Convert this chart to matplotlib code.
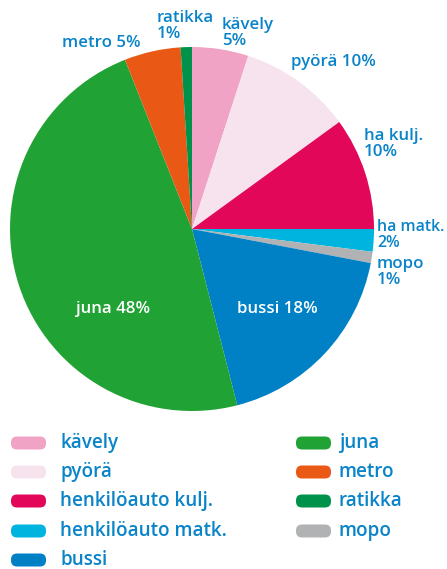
import matplotlib.pyplot as plt
from matplotlib.patches import FancyBboxPatch
from matplotlib.transforms import IdentityTransform

labels = ['kävely', 'pyörä', 'henkilöauto kulj.', 'henkilöauto matk.', 'mopo',
          'bussi', 'juna', 'metro', 'ratikka']
short = ['kävely\n5%', 'pyörä 10%', 'ha kulj.\n10%', 'ha matk.\n2%', 'mopo\n1%',
         'bussi 18%', 'juna 48%', 'metro 5%', 'ratikka\n1%']
values = [5, 10, 10, 2, 1, 18, 48, 5, 1]
colors = ['#f0a3c4', '#f6e3ee', '#e3075a', '#00b4e0', '#b1b2b4',
          '#0081c6', '#21a234', '#e95815', '#00924a']

# label anchor positions in pixels (left edge, vertical centre)
label_px = [(222, 33), (291, 62), (364, 144), (377, 235), (377, 272),
            (237, 309), (76, 309), (62, 43), (157, 26)]
label_col = ['#0a84c8'] * 5 + ['white', 'white'] + ['#0a84c8'] * 2

W, H = 447, 569
cx, cy, r = 192, 229, 182
blue = '#0a84c8'
font = 'Open Sans'

fig = plt.figure(figsize=(W / 100, H / 100), dpi=100)
ax = fig.add_axes([(cx - r) / W, 1 - (cy + r) / H, 2 * r / W, 2 * r / H])
ax.pie(values, colors=colors, startangle=90, counterclock=False, radius=1,
       wedgeprops=dict(linewidth=0))
ax.set_xlim(-1, 1)
ax.set_ylim(-1, 1)
ax.set_aspect('equal')
ax.axis('off')

for txt, (px, py), c in zip(short, label_px, label_col):
    # the label at the right edge is squeezed a bit so it stays inside
    fs = 11.4 if txt.startswith('ha matk') else 12.2
    fig.text(px / W, 1 - py / H, txt, ha='left', va='center', color=c,
             fontsize=fs, fontweight='semibold', family=font, linespacing=0.95)

# legend, two columns (pixel coords)
col1 = [0, 1, 2, 3, 5]
col2 = [6, 7, 8, 4]
rows_y = [443, 472, 501, 531, 560]
for col, (px_patch, px_text) in zip([col1, col2], [(11, 60), (296, 339)]):
    for i, idx in enumerate(col):
        y = rows_y[i]
        p = FancyBboxPatch((px_patch + 6, H - y - 6.5 + 6), 35 - 12, 13 - 12,
                           boxstyle='round,pad=6',
                           transform=IdentityTransform(), facecolor=colors[idx],
                           edgecolor='none')
        fig.patches.append(p)
        fig.text(px_text / W, 1 - y / H, labels[idx], ha='left', va='center',
                 color=blue, fontsize=13.6, fontweight='semibold', family=font)

fig.savefig('out.png', dpi=100)
